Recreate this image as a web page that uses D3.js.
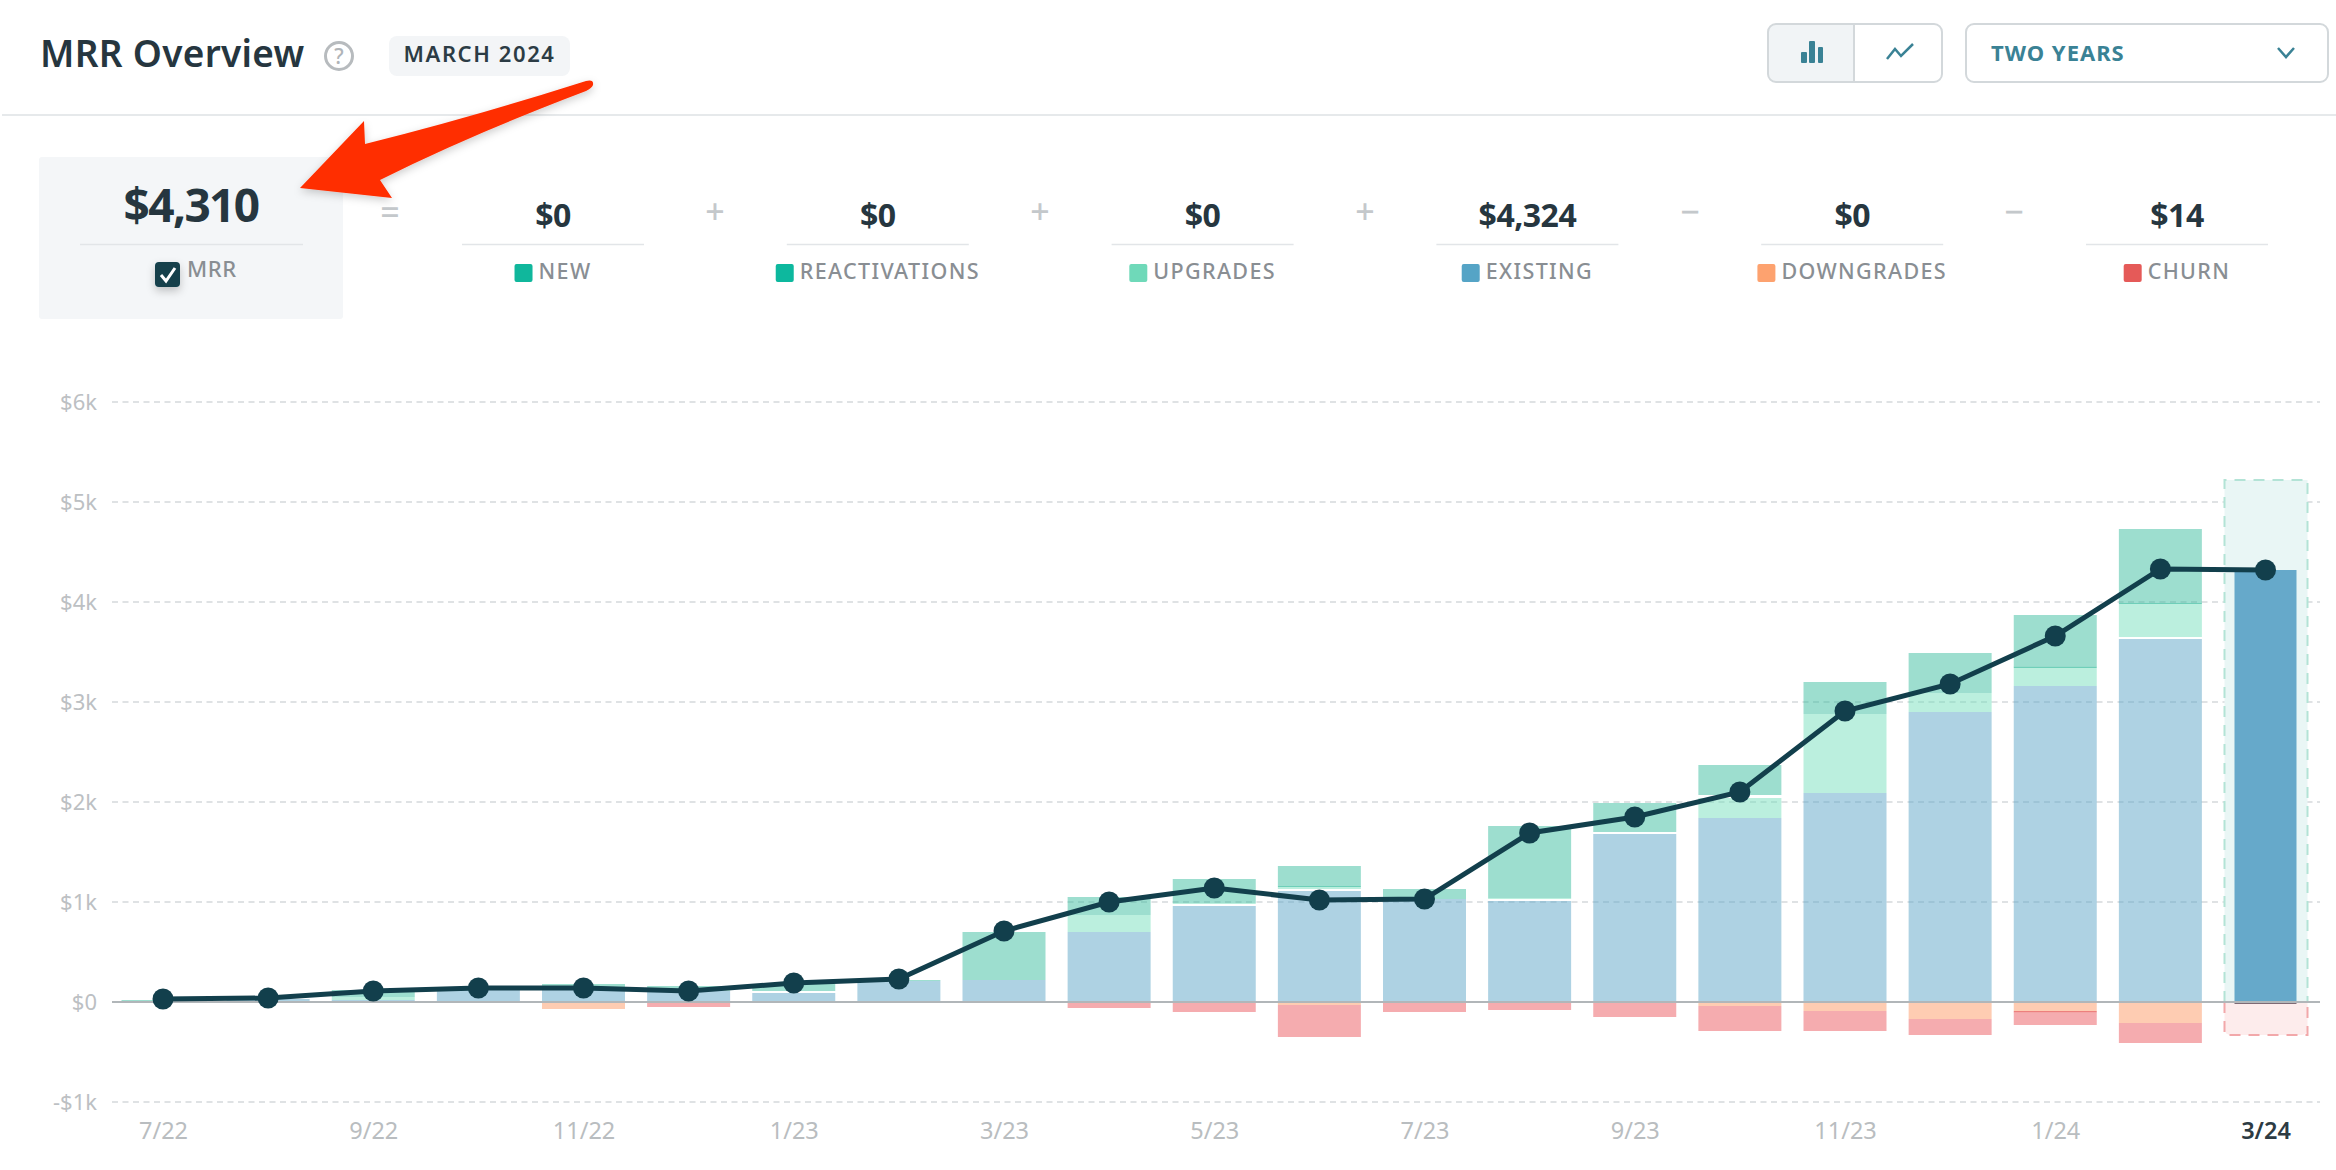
<!DOCTYPE html>
<html><head><meta charset="utf-8">
<script src="https://cdn.jsdelivr.net/npm/d3@7"></script>
<style>
html,body{margin:0;padding:0;background:#fff;overflow:hidden}
svg{display:block}
text{font-family:"Noto Sans",sans-serif}
</style></head><body>
<svg id="c" width="2336" height="1170"></svg>
<script>
// ---- data (dollars) ----
const months = ["7/22","8/22","9/22","10/22","11/22","12/22","1/23","2/23","3/23","4/23","5/23","6/23","7/23","8/23","9/23","10/23","11/23","12/23","1/24","2/24","3/24"];
const tickMonths = ["7/22","9/22","11/22","1/23","3/23","5/23","7/23","9/23","11/23","1/24","3/24"];
const yTicks = [-1000,0,1000,2000,3000,4000,5000,6000];
const existing      = [10,30,20,120,120,110,90,210,220,700,960,1110,1030,1010,1680,1840,2090,2900,3160,3630,4320];
const gapLow        = [0,0,0,0,0,0,20,0,0,0,20,20,0,20,20,0,0,0,0,20,0];
const upgrades      = [0,0,30,0,20,20,0,0,0,170,10,20,0,10,0,200,790,190,180,330,0];
const gapHigh       = [0,0,0,0,0,0,0,0,0,0,0,0,0,0,0,30,0,0,0,0,0];
const reactivations = [0,0,0,0,0,0,0,0,0,0,0,10,0,0,0,0,0,0,15,10,0];
const newBiz        = [10,0,70,10,40,30,70,10,480,180,240,200,100,720,290,300,320,400,515,740,0];
const downgrades    = [0,0,0,0,70,10,0,0,0,0,0,30,0,0,0,40,90,170,90,210,0];
const overlap       = [0,0,0,0,0,0,0,0,0,0,0,0,0,0,0,0,0,0,15,0,0];
const churn         = [0,0,0,0,0,40,0,0,0,60,100,320,100,80,150,250,200,160,125,200,20];
const mrr           = [30,40,110,140,140,110,190,230,710,1000,1140,1020,1030,1690,1850,2100,2910,3180,3660,4330,4320];
const projectedTop = 5220, projectedBottom = -330;
const kpiLabels = ["NEW","REACTIVATIONS","UPGRADES","EXISTING","DOWNGRADES","CHURN"];
const kpiValues = ["$0","$0","$0","$4,324","$0","$14"];
const kpiColors = ["#10b79c","#0db89e","#6fd9b9","#55a4c6","#fda26f","#e55a58"];
const kpiOps = ["=","+","+","+","−","−"];

// ---- layout ----
const svg = d3.select("#c");
const ink="#26363f", grey="#898e93", teal="#3a8295", dark="#123f4c";
const x = d3.scalePoint().domain(months).range([163,2265.5]);
const y = d3.scaleLinear().domain([-1000,6000]).range([1102,402]);
const barW = 83, lastW = 62;

// ---- header ----
const T=(t,px,py,size,weight,fill,anchor,ls)=>svg.append("text").attr("x",px).attr("y",py)
  .attr("font-size",size).attr("font-weight",weight).attr("fill",fill)
  .attr("text-anchor",anchor||"start").attr("letter-spacing",ls||0).text(t);
T("MRR Overview",40,67,37,600,ink,"start",0.3);
svg.append("circle").attr("cx",339).attr("cy",56).attr("r",13.5).attr("fill","none").attr("stroke","#b7bbbe").attr("stroke-width",3);
T("?",339,64,21,500,"#b0b4b8","middle");
svg.append("rect").attr("x",389).attr("y",36).attr("width",181).attr("height",40).attr("rx",8).attr("fill","#f3f5f7");
T("MARCH 2024",479.5,62,22,600,"#2c3c45","middle",1.6);
svg.append("rect").attr("x",2).attr("y",114).attr("width",2334).attr("height",2).attr("fill","#e6e9eb");

// toggle
svg.append("path").attr("d","M1854 24H1776a8 8 0 0 0-8 8V74a8 8 0 0 0 8 8H1854Z").attr("fill","#f1f4f6");
svg.append("rect").attr("x",1768).attr("y",24).attr("width",174).attr("height",58).attr("rx",8).attr("fill","none").attr("stroke","#d3d8db").attr("stroke-width",2);
svg.append("line").attr("x1",1854).attr("x2",1854).attr("y1",24).attr("y2",82).attr("stroke","#d3d8db").attr("stroke-width",2);
[[1801,52,6],[1809,41,6],[1818,47,5]].forEach(b=>svg.append("rect").attr("x",b[0]).attr("y",b[1]).attr("width",b[2]).attr("height",63-b[1]).attr("rx",1).attr("fill",teal));
svg.append("path").attr("d","M1887 59L1895 49L1901 56L1913 44").attr("fill","none").attr("stroke",teal).attr("stroke-width",2.5);
// dropdown
svg.append("rect").attr("x",1966).attr("y",24).attr("width",362).attr("height",58).attr("rx",8).attr("fill","#fff").attr("stroke","#d3d8db").attr("stroke-width",2);
T("TWO YEARS",1991,61,22,700,teal,"start",1);
svg.append("path").attr("d","M2278 48L2286 57L2294 48").attr("fill","none").attr("stroke",teal).attr("stroke-width",2.5);

// ---- KPI row ----
svg.append("rect").attr("x",39).attr("y",157).attr("width",304).attr("height",162).attr("rx",3).attr("fill","#f4f6f8");
T("$4,310",191,222,46,700,ink,"middle",-1.6);
svg.append("line").attr("x1",80).attr("x2",303).attr("y1",244.5).attr("y2",244.5).attr("stroke","#e2e5e8").attr("stroke-width",1.5);
const defs=svg.append("defs");
const f=defs.append("filter").attr("id","soft").attr("x","-40%").attr("y","-40%").attr("width","180%").attr("height","200%");
f.append("feDropShadow").attr("dx",0).attr("dy",4).attr("stdDeviation",4).attr("flood-color","#000").attr("flood-opacity",.22);
svg.append("rect").attr("x",155).attr("y",262).attr("width",25).attr("height",25).attr("rx",4).attr("fill",dark).attr("filter","url(#soft)");
svg.append("path").attr("d","M161 275L166 281L175 268").attr("fill","none").attr("stroke","#fff").attr("stroke-width",3);
T("MRR",187,277,22,500,grey,"start",0.6);

const kx=d3.scalePoint().domain(kpiLabels).range([553,2177]);
const opX=[390,715,1040,1365,1690,2014];
kpiLabels.forEach((k,i)=>{
  const c=kx(k);
  T(kpiValues[i],c,227,32,700,ink,"middle",-0.5);
  svg.append("line").attr("x1",c-91).attr("x2",c+91).attr("y1",244.5).attr("y2",244.5).attr("stroke","#e2e5e8").attr("stroke-width",1.5);
  const lab=T(k,0,279,21.5,500,grey,"start",1.35);
  const w=lab.node().getComputedTextLength();
  const left=c-(w+24)/2;
  lab.attr("x",left+24);
  svg.append("rect").attr("x",left).attr("y",264).attr("width",18).attr("height",18).attr("rx",2).attr("fill",kpiColors[i]);
  T(kpiOps[i],opX[i],224,34,500,"#c4c8cb","middle");
});

// ---- grid + axes ----
const grid=svg.append("g");
grid.selectAll("line").data(yTicks.filter(d=>d!==0)).join("line")
  .attr("x1",112).attr("x2",2320).attr("y1",d=>y(d)).attr("y2",d=>y(d))
  .attr("stroke","#dfe2e4").attr("stroke-width",2).attr("stroke-dasharray","6 4.5");

const fmt=d=>(d<0?"-":"")+"$"+(d===0?"0":Math.abs(d)/1000+"k");
const ay=svg.append("g").attr("transform","translate(104,0)")
  .call(d3.axisLeft(y).tickValues(yTicks).tickFormat(fmt).tickSize(0).tickPadding(7));
ay.select(".domain").remove();
ay.selectAll("text").attr("font-size",22).attr("fill","#bcc0c3").attr("font-family",'"Noto Sans",sans-serif');

const ax=svg.append("g").attr("transform","translate(0,1112)")
  .call(d3.axisBottom(x).tickValues(tickMonths).tickSize(0).tickPadding(0));
ax.select(".domain").remove();
ax.selectAll("text").attr("font-size",23.5).attr("fill","#b9bdc0").attr("font-family",'"Noto Sans",sans-serif').attr("dy","27")
  .filter(d=>d==="3/24").attr("fill","#2d3b43").attr("font-weight",600);

// ---- projected highlight ----
const hx=x("3/24")-barW/2+0.5;
svg.append("rect").attr("x",hx).attr("y",y(projectedTop)).attr("width",barW).attr("height",y(0)-y(projectedTop)).attr("fill","#e9f6f5");
svg.append("path").attr("d",`M${hx} ${y(0)}L${hx} ${y(projectedBottom)-6}a6 6 0 0 0 6 6H${hx+barW-6}a6 6 0 0 0 6-6L${hx+barW} ${y(0)}Z`).attr("fill","#fdecec");
svg.append("path").attr("d",`M${hx} ${y(0)}V${y(projectedTop)}H${hx+barW}V${y(0)}`).attr("fill","none").attr("stroke","#b3e3d6").attr("stroke-width",2).attr("stroke-dasharray","11 8");
svg.append("path").attr("d",`M${hx} ${y(0)}V${y(projectedBottom)}H${hx+barW}V${y(0)}`).attr("fill","none").attr("stroke","#f2a8aa").attr("stroke-width",2).attr("stroke-dasharray","11 8");

// ---- stacked bars ----
const rows=months.map((m,i)=>({m,existing:existing[i],gapLow:gapLow[i],upgrades:upgrades[i],gapHigh:gapHigh[i],reactivations:reactivations[i],newBiz:newBiz[i],downgrades:downgrades[i],overlap:overlap[i],churn:churn[i]}));
const upKeys=["existing","gapLow","upgrades","gapHigh","reactivations","newBiz"];
const fills={existing:["#5da5c8",.5],gapLow:["#ffffff",1],upgrades:["#6fdcb9",.47],gapHigh:["#ffffff",1],reactivations:["#3fbfa2",.75],newBiz:["#2fb99a",.47],downgrades:["#fd9a66",.5],overlap:["#e8605c",.8],churn:["#ec5a5f",.5]};
function draw(series){
  series.forEach(s=>{
    svg.append("g").selectAll("rect").data(s).join("rect")
      .attr("x",d=>x(d.data.m)-(d.data.m==="3/24"?lastW:barW)/2)
      .attr("width",d=>d.data.m==="3/24"?lastW:barW)
      .attr("y",d=>Math.min(y(d[0]),y(d[1])))
      .attr("height",d=>Math.abs(y(d[0])-y(d[1])))
      .attr("fill",d=>d.data.m==="3/24"?(s.key==="churn"?"#7d6a75":"#66a9ca"):fills[s.key][0])
      .attr("fill-opacity",d=>d.data.m==="3/24"?1:fills[s.key][1]);
  });
}
draw(d3.stack().keys(upKeys)(rows));
draw(d3.stack().keys(["downgrades","overlap","churn"]).value((d,k)=>-d[k])(rows));

// zero axis
svg.append("line").attr("x1",112).attr("x2",2320).attr("y1",y(0)).attr("y2",y(0)).attr("stroke","#b1b6b9").attr("stroke-width",2);

// ---- MRR line ----
svg.append("path").datum(mrr).attr("fill","none").attr("stroke",dark).attr("stroke-width",5)
  .attr("d",d3.line().x((d,i)=>x(months[i])).y(d=>y(d)));
svg.append("g").selectAll("circle").data(mrr).join("circle")
  .attr("cx",(d,i)=>x(months[i])).attr("cy",d=>y(d)).attr("r",10.5).attr("fill",dark);

// ---- annotation arrow ----
const g2=defs.append("filter").attr("id","arrowShadow").attr("x","-10%").attr("y","-10%").attr("width","120%").attr("height","130%");
g2.append("feDropShadow").attr("dx",0).attr("dy",3).attr("stdDeviation",4).attr("flood-color","#000").attr("flood-opacity",.2);
svg.append("path").attr("filter","url(#arrowShadow)").attr("fill","#ff2e00")
  .attr("d","M300 188L364 121L365 144Q470 118 586 81Q594 79 593 85Q592 88 586 91Q470 135 380 180L392 198Z");
</script>
</body></html>
